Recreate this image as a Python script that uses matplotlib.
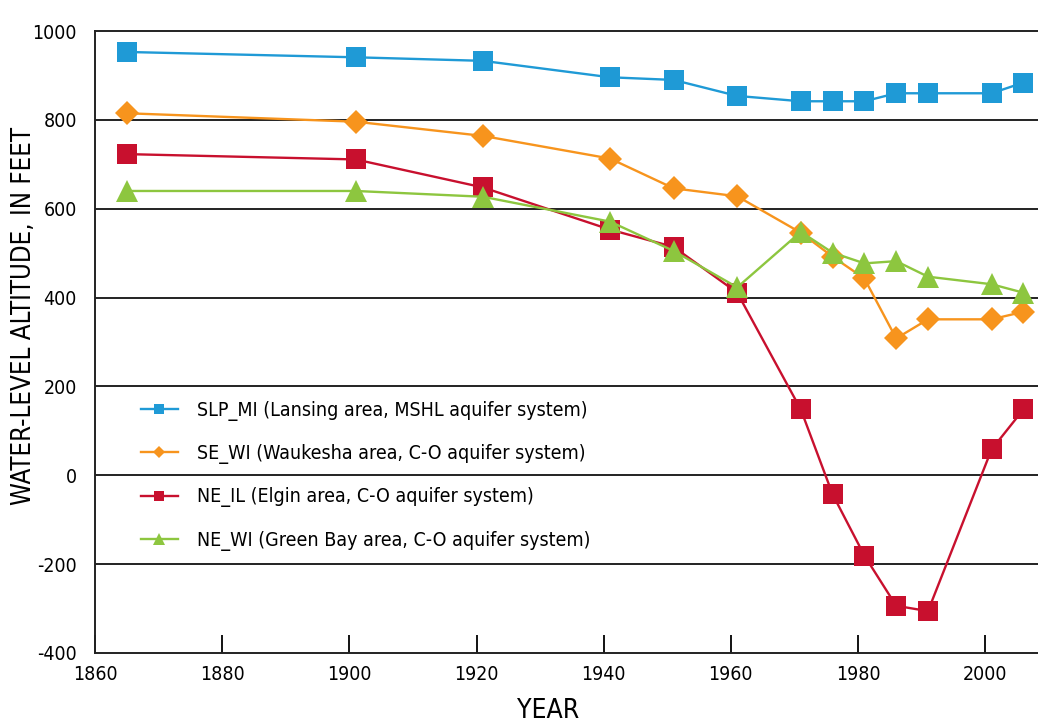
"""Water-level altitude over time for four deep-aquifer areas."""

import matplotlib
matplotlib.use("Agg")
import matplotlib.pyplot as plt
from matplotlib import font_manager

# data
years = [1865, 1901, 1921, 1941, 1951, 1961, 1971, 1976, 1981, 1986, 1991, 2001, 2006]
slp_mi = [953, 941, 933, 896, 890, 854, 842, 842, 842, 860, 860, 860, 884]
se_wi = [815, 796, 764, 713, 646, 628, 546, 492, 443, 308, 351, 351, 368]
ne_il = [723, 711, 648, 553, 514, 411, 148, -43, -181, -294, -306, 58, 148]
ne_wi = [640, 640, 627, 571, 505, 423, 548, 501, 477, 482, 447, 430, 411]

labels = [
    "SLP_MI (Lansing area, MSHL aquifer system)",
    "SE_WI (Waukesha area, C-O aquifer system)",
    "NE_IL (Elgin area, C-O aquifer system)",
    "NE_WI (Green Bay area, C-O aquifer system)",
]
x_ticks = [1860, 1880, 1900, 1920, 1940, 1960, 1980, 2000]
y_ticks = [-400, -200, 0, 200, 400, 600, 800, 1000]


def pick_condensed_font():
    """Find a narrow sans face among installed fonts; fall back to Liberation Sans."""
    entries = font_manager.fontManager.ttflist
    names = {f.name for f in entries}
    cond = {"condensed", "semi-condensed", "extra-condensed", "ultra-condensed"}
    if "Liberation Sans Narrow" in names:
        return "Liberation Sans Narrow", "normal"
    for fam in ["DejaVu Sans", "Roboto", "Noto Sans", "Open Sans"]:
        if any(f.name == fam and str(f.stretch) in cond for f in entries):
            return fam, "condensed"
    for f in entries:
        if "Condensed" in f.name or "Narrow" in f.name:
            return f.name, "normal"
    return "Liberation Sans", "normal"


COND_FAMILY, COND_STRETCH = pick_condensed_font()
NARROW = dict(family=[COND_FAMILY, "DejaVu Sans"], stretch=COND_STRETCH)

series = [
    (slp_mi, "#1f9ad6", "s", 14),
    (se_wi, "#f7941d", "D", 12.5),
    (ne_il, "#c8102e", "s", 14),
    (ne_wi, "#8dc63f", "^", 16),
]

fig = plt.figure(figsize=(10.38, 7.23), dpi=100)
ax = fig.add_axes([0.0915, 0.097, 0.9085, 0.860])

for vals, color, marker, ms in series:
    ax.plot(years, vals, color=color, lw=1.7, marker=marker, ms=ms,
            markeredgewidth=0)

for v in [-200, 0, 200, 400, 600, 800]:
    ax.axhline(v, color="#222222", lw=1.4, zorder=0)

ax.set_xlim(1860, 2008.3)
ax.set_ylim(-400, 1000)
ax.set_xticks(x_ticks)
ax.set_yticks(y_ticks)
ax.set_xticklabels([str(t) for t in x_ticks], fontsize=14, **NARROW)
ax.set_yticklabels([str(t) for t in y_ticks], fontsize=14, **NARROW)
ax.tick_params(axis="x", direction="in", length=13, width=1.3, pad=9)
ax.tick_params(axis="y", length=0, pad=13)

for side in ["left", "top", "bottom"]:
    ax.spines[side].set_linewidth(1.4)
    ax.spines[side].set_color("#222222")
ax.spines["right"].set_visible(False)

ax.set_xlabel("YEAR", fontsize=19, **NARROW)
ax.set_ylabel("WATER-LEVEL ALTITUDE, IN FEET", fontsize=18.5, **NARROW)
ax.xaxis.set_label_coords(0.48, -0.072)
ax.yaxis.set_label_coords(-0.062, 0.542)

handles = ax.get_lines()[:4]
ax.legend(handles, labels, loc="center left", bbox_to_anchor=(0.03, 0.285),
          frameon=False, prop=font_manager.FontProperties(size=14, **NARROW),
          handlelength=1.9, labelspacing=1.2, markerscale=0.5,
          handletextpad=1.0)

fig.savefig("out.png", dpi=100)
